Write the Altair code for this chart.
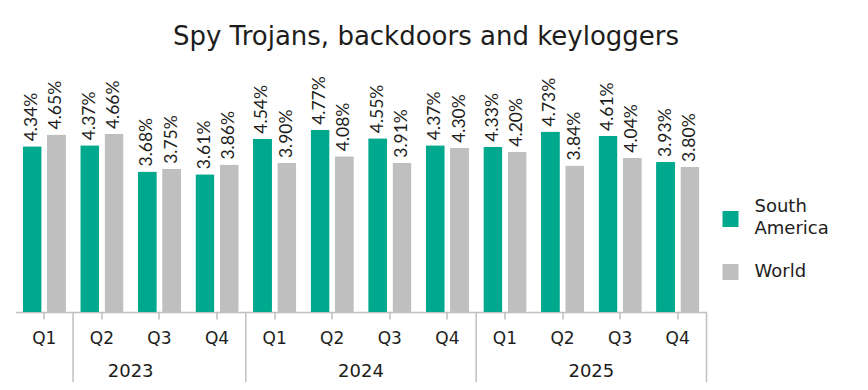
import altair as alt
import pandas as pd

# ---- data ----
years = ["2023", "2024", "2025"]
quarters = ["Q1", "Q2", "Q3", "Q4"]
series_names = ["South America", "World"]
south_america = [4.34, 4.37, 3.68, 3.61, 4.54, 4.77, 4.55, 4.37, 4.33, 4.73, 4.61, 3.93]
world = [4.65, 4.66, 3.75, 3.86, 3.90, 4.08, 3.91, 4.30, 4.20, 3.84, 4.04, 3.80]

FONT = "DejaVu Sans"
NUMFONT = "Lato"
TEXT = "#1d1d1b"
GREEN = "#00A88E"
GREY = "#BFBFBF"
AXIS = "#BFBFBF"

keys = [f"{y}-{q}" for y in years for q in quarters]
rows = []
for i, k in enumerate(keys):
    y, q = k.split("-")
    for s, vals in zip(series_names, [south_america, world]):
        rows.append({"key": k, "year": y, "quarter": q, "series": s,
                     "value": vals[i], "label": f"{vals[i]:.2f}%"})
df = pd.DataFrame(rows)

W, H = 691, 210
BOTTOM = 70

color_scale = alt.Scale(domain=series_names, range=[GREEN, GREY])
xscale = alt.Scale(domain=keys, paddingInner=0, paddingOuter=0)
x_enc = alt.X("key:N", sort=keys, scale=xscale,
              axis=alt.Axis(title=None, labelExpr="split(datum.value,'-')[1]",
                            labelAngle=0, labelFontSize=17, labelFont=FONT,
                            labelColor=TEXT, tickColor=AXIS, domainColor=AXIS,
                            tickSize=7, labelPadding=11, domainWidth=1.5,
                            tickWidth=1.5))
xoff = alt.XOffset("series:N", sort=series_names,
                   scale=alt.Scale(domain=series_names, paddingInner=0.218,
                                   paddingOuter=0.294))
y_enc = alt.Y("value:Q", scale=alt.Scale(domain=[0, 5.5]), axis=None)

base = alt.Chart(df)
bars = base.mark_bar(cornerRadius=1).encode(
    x=x_enc, xOffset=xoff, y=y_enc,
    color=alt.Color("series:N", sort=series_names, scale=color_scale, legend=None),
)
labels = base.mark_text(angle=270, align="left", baseline="middle", dx=5,
                        fontSize=17.5, font=NUMFONT, color=TEXT).encode(
    x=alt.X("key:N", sort=keys, scale=xscale), xOffset=xoff, y=y_enc,
    text="label:N")

ydf = pd.DataFrame({"year": years, "key": [f"{y}-Q2" for y in years],
                    "end": [f"{y}-Q4" for y in years]})
year_text = alt.Chart(ydf).mark_text(fontSize=18, font=FONT, color=TEXT,
                                     baseline="middle").encode(
    x=alt.X("key:N", sort=keys, scale=xscale, bandPosition=1),
    y=alt.value(H + 60), text="year:N")
sep_right = alt.Chart(ydf).mark_rule(color=AXIS, strokeWidth=1.5).encode(
    x=alt.X("end:N", sort=keys, scale=xscale, bandPosition=1),
    y=alt.value(H), y2=alt.value(H + BOTTOM))
sep_left = alt.Chart(ydf.iloc[:1]).mark_rule(color=AXIS, strokeWidth=1.5).encode(
    x=alt.X("key:N", sort=keys, scale=xscale, bandPosition=0),
    y=alt.value(H), y2=alt.value(H + BOTTOM))

# custom legend
ldf = pd.DataFrame({"series": series_names})
leg_sq = alt.Chart(ldf).mark_square(size=256, opacity=1).encode(
    x=alt.value(W + 24),
    y=alt.Y("series:N", sort=series_names,
            scale=alt.Scale(type="point", padding=0, domain=series_names,
                            range=[117, 170]), axis=None),
    color=alt.Color("series:N", sort=series_names, scale=color_scale, legend=None))
leg_tx = alt.Chart(ldf).mark_text(align="left", baseline="middle", lineBreak=" ",
                                  lineHeight=22, fontSize=18, font=FONT,
                                  color=TEXT).encode(
    x=alt.value(W + 48),
    y=alt.Y("series:N", sort=series_names,
            scale=alt.Scale(type="point", padding=0, domain=series_names,
                            range=[105, 170]), axis=None),
    text="series:N")

chart = alt.layer(bars, labels, year_text, sep_right, sep_left, leg_sq, leg_tx).resolve_scale(
    y="independent"
).properties(
    width=W, height=H,
    autosize=alt.AutoSizeParams(type="none"),
    padding={"left": 7.5, "top": 94, "right": 153, "bottom": BOTTOM},
    title=alt.TitleParams("Spy Trojans, backdoors and keyloggers", fontSize=26,
                          font=FONT, fontWeight="normal", color=TEXT,
                          anchor="middle", dx=65, offset=26),
).configure_view(stroke=None).configure_axisX(grid=False)

chart.save("out.html", embed_options={"renderer": "svg", "actions": False})
